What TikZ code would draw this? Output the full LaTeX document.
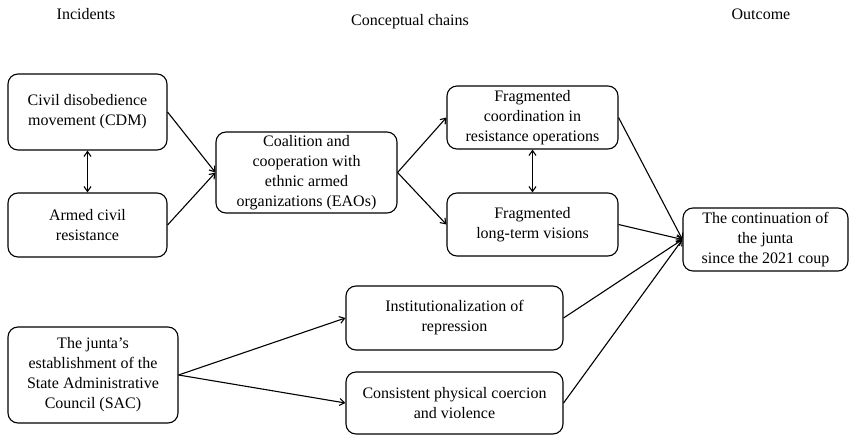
\documentclass[tikz,border=0pt]{standalone}
\usepackage{fontspec}
\setmainfont{Liberation Serif}
\usetikzlibrary{arrows.meta,positioning}

\begin{document}
\begin{tikzpicture}[x=1pt,y=-1pt,>={Straight Barb[length=5pt,width=7pt]},
    every node/.style={font=\fontsize{16}{20}\selectfont},
    box/.style={draw,rounded corners=10pt,line width=1.1pt,align=center,inner sep=2pt},
    link/.style={line width=1.1pt}]

                \useasboundingbox (0,0) rectangle (849,436);

                % column titles
                \node (tinc) at (86,14) {Incidents};
                \node (tcon) at (410,22) {Conceptual chains};
                \node (tout) at (761,14) {Outcome};

                % incidents
                \node[box,minimum width=159pt,minimum height=76pt] (cdm) at (87.5,112) {Civil disobedience\\movement (CDM)};
                \node[box,minimum width=159pt,minimum height=64pt] (armed) at (87.5,225) {Armed civil\\resistance};
                \node[box,minimum width=170pt,minimum height=96pt] (sac) at (93,375) {The junta's\\establishment of the\\State Administrative\\Council (SAC)};

                % conceptual chains
                \node[box,minimum width=181pt,minimum height=81pt] (coal) at (306.5,172.5) {Coalition and\\cooperation with\\ethnic armed\\organizations (EAOs)};
                \node[box,minimum width=171pt,minimum height=63pt] (fcoord) at (532.5,117.5) {Fragmented\\coordination in\\resistance operations};
                \node[box,minimum width=171pt,minimum height=63pt] (flong) at (532.5,224.5) {Fragmented\\long-term visions};
                \node[box,minimum width=217pt,minimum height=64pt] (inst) at (454.5,318) {Institutionalization of\\repression};
                \node[box,minimum width=217pt,minimum height=62pt] (cons) at (454.5,403) {Consistent physical coercion\\and violence};

                % outcome
                \node[box,minimum width=165pt,minimum height=63pt] (outc) at (765.5,239.5) {The continuation of\\the junta\\since the 2021 coup};

                \draw[link,<->] (cdm) -- (armed);
                \draw[link,<->] (fcoord) -- (flong);

                \draw[link,->] (cdm.east) -- (coal.west);
                \draw[link,->] (armed.east) -- (coal.west);
                \draw[link,->] (coal.east) -- (fcoord.west);
                \draw[link,->] (coal.east) -- (flong.west);
                \draw[link,->] (sac.east) -- (inst.west);
                \draw[link,->] (sac.east) -- (cons.west);

                \draw[link,->] (fcoord.east) -- (outc.west);
                \draw[link,->] (flong.east) -- (outc.west);
                \draw[link,->] (inst.east) -- (outc.west);
                \draw[link,->] (cons.east) -- (outc.west);

\end{tikzpicture}
\end{document}
